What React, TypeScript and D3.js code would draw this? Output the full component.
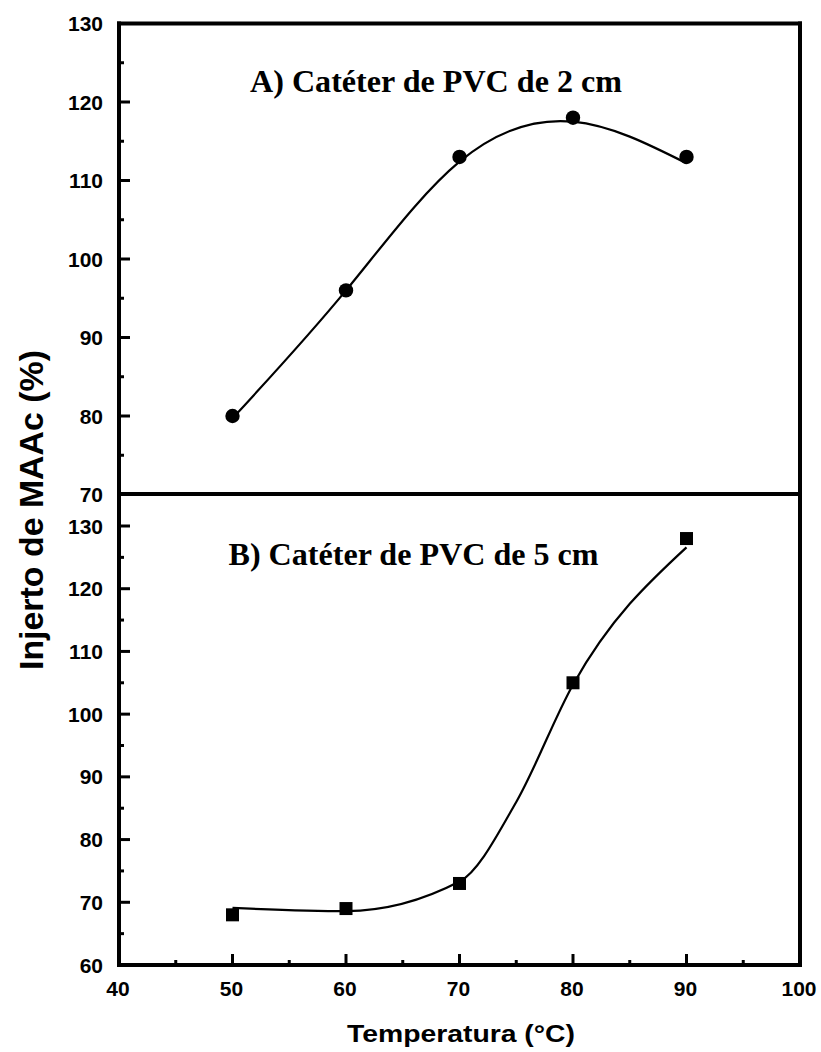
import React from "react";
import * as d3 from "d3";

const temps = [50, 60, 70, 80, 90];
const graftA = [80, 96, 113, 118, 113];
const graftB = [68, 69, 73, 105, 128];
// smooth fitted curve knots
const fitTempsA = [50, 60, 70, 80, 90];
const fitA = [79.7, 96, 112.4, 117.5, 112.2];
const fitTempsB = [50, 60, 70, 75, 80, 90];
const fitB = [69.1, 68.6, 73.3, 86, 104.7, 126.6];

const xMajor = [40, 50, 60, 70, 80, 90, 100];
const xMinor = [45, 55, 65, 75, 85, 95];
const yMajorA = [70, 80, 90, 100, 110, 120, 130];
const yMinorA = [75, 85, 95, 105, 115, 125];
const yMajorB = [60, 70, 80, 90, 100, 110, 120, 130];
const yMinorB = [65, 75, 85, 95, 105, 115, 125];

const titleA = "A) Catéter de PVC de 2 cm";
const titleB = "B) Catéter de PVC de 5 cm";
const xTitle = "Temperatura (°C)";
const yTitle = "Injerto de MAAc (%)";

export default function App() {
  const L = 119, R = 800, T = 23.5, M = 494, B = 965;
  const x = d3.scaleLinear().domain([40, 100]).range([L, R]);
  const yA = d3.scaleLinear().domain([70, 130]).range([494.5, 23.5]);
  const yB = d3.scaleLinear().domain([60, 130]).range([965, 526]);

  const lineA = d3
    .line<number>()
    .x((_, i) => x(fitTempsA[i]))
    .y((d) => yA(d))
    .curve(d3.curveNatural);
  const lineB = d3
    .line<number>()
    .x((_, i) => x(fitTempsB[i]))
    .y((d) => yB(d))
    .curve(d3.curveMonotoneX);

  const sans = "'Liberation Sans', Arial, sans-serif";
  const serif = "'Liberation Serif', 'Times New Roman', serif";
  const sq = 13;

  return (
    <svg
      width={821}
      height={1052}
      style={{ position: "absolute", left: 0, top: 0, background: "#fff" }}
    >
      <rect x={0} y={0} width={821} height={1052} fill="#fff" />
      {/* frames */}
      <g stroke="#000" strokeWidth={4} strokeLinecap="square" fill="none">
        <line x1={L} y1={T} x2={R} y2={T} />
        <line x1={L} y1={T} x2={L} y2={B} />
        <line x1={R} y1={T} x2={R} y2={B} />
        <line x1={L} y1={M} x2={R} y2={M} />
        <line x1={L} y1={B} x2={R} y2={B} />
      </g>
      {/* ticks */}
      <g stroke="#000" strokeWidth={3}>
        {yMajorA.filter((v) => v !== 70 && v !== 130).map((v) => (
          <line key={"ya" + v} x1={L} x2={L + 11} y1={yA(v)} y2={yA(v)} />
        ))}
        {yMinorA.map((v) => (
          <line key={"yam" + v} x1={L} x2={L + 5} y1={yA(v)} y2={yA(v)} />
        ))}
        {yMajorB.filter((v) => v !== 60).map((v) => (
          <line key={"yb" + v} x1={L} x2={L + 11} y1={yB(v)} y2={yB(v)} />
        ))}
        {yMinorB.map((v) => (
          <line key={"ybm" + v} x1={L} x2={L + 5} y1={yB(v)} y2={yB(v)} />
        ))}
        {xMajor.filter((v) => v !== 40 && v !== 100).map((v) => (
          <line key={"x" + v} x1={x(v)} x2={x(v)} y1={B} y2={B - 11} />
        ))}
        {xMinor.map((v) => (
          <line key={"xm" + v} x1={x(v)} x2={x(v)} y1={B} y2={B - 5} />
        ))}
      </g>
      {/* tick labels */}
      <g fontFamily={sans} fontWeight="bold" fontSize={21} fill="#000">
        {yMajorA.map((v) => (
          <text key={"la" + v} x={103} y={yA(v) + 7.5} textAnchor="end">
            {v}
          </text>
        ))}
        {yMajorB.map((v) => (
          <text key={"lb" + v} x={103} y={yB(v) + 7.5} textAnchor="end">
            {v}
          </text>
        ))}
        {xMajor.map((v) => (
          <text key={"lx" + v} x={x(v) - 1} y={996} textAnchor="middle">
            {v}
          </text>
        ))}
      </g>
      {/* curves */}
      <path d={lineA(fitA) || ""} fill="none" stroke="#000" strokeWidth={2.2} />
      <path d={lineB(fitB) || ""} fill="none" stroke="#000" strokeWidth={2.2} />
      {/* markers */}
      {graftA.map((v, i) => (
        <circle key={"ca" + i} cx={x(temps[i])} cy={yA(v)} r={7.2} fill="#000" />
      ))}
      {graftB.map((v, i) => (
        <rect
          key={"sb" + i}
          x={x(temps[i]) - sq / 2}
          y={yB(v) - sq / 2}
          width={sq}
          height={sq}
          fill="#000"
        />
      ))}
      {/* panel titles */}
      <text
        x={250}
        y={91.5}
        fontFamily={serif}
        fontWeight="bold"
        fontSize={32}
        textLength={372}
        lengthAdjust="spacingAndGlyphs"
      >
        {titleA}
      </text>
      <text
        x={228.5}
        y={565}
        fontFamily={serif}
        fontWeight="bold"
        fontSize={32}
        textLength={370}
        lengthAdjust="spacingAndGlyphs"
      >
        {titleB}
      </text>
      {/* axis titles */}
      <text
        x={347}
        y={1041.5}
        fontFamily={sans}
        fontWeight="bold"
        fontSize={24}
        textLength={228}
        lengthAdjust="spacingAndGlyphs"
      >
        {xTitle}
      </text>
      <text
        transform="translate(42.5,670) rotate(-90)"
        x={0}
        y={0}
        fontFamily={sans}
        fontWeight="bold"
        fontSize={34}
        textLength={320}
        lengthAdjust="spacingAndGlyphs"
      >
        {yTitle}
      </text>
    </svg>
  );
}
